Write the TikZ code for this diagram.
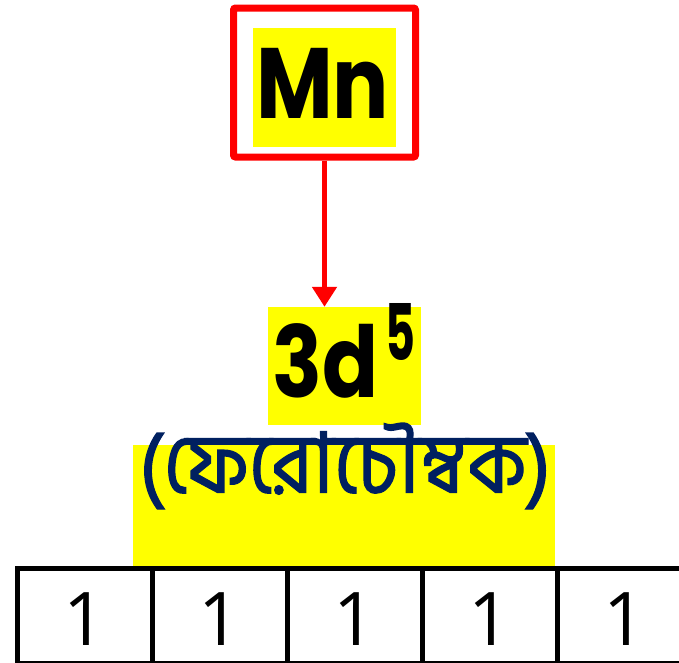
\documentclass[tikz,border=0pt]{standalone}
\usepackage{fontspec}
\usetikzlibrary{arrows.meta}
\newfontfamily\popfont{Poppins}
\newfontfamily\bnfont[Script=Bengali,FakeBold=1.6]{Hind Siliguri}
\newfontfamily\numfont{Open Sans}
\definecolor{navy}{RGB}{0,32,96}
\definecolor{hl}{RGB}{255,255,0}
\tikzset{
  hlbox/.style={fill=hl, inner sep=0pt, draw=none},
  cellbox/.style={draw=black, line width=5pt, minimum width=135pt, minimum height=95pt, inner sep=0pt},
  digit/.style={inner sep=0pt, anchor=base, font=\numfont\fontsize{74}{74}\selectfont},
  redbox/.style={draw=red, line width=7pt, rounded corners=2pt, minimum width=182pt, minimum height=149pt, inner sep=0pt},
  redarrow/.style={draw=red, line width=5pt, -{Triangle[width=24pt,length=20pt]}},
}
\begin{document}
\begin{tikzpicture}[x=1pt,y=-1pt]
\clip (0,0) rectangle (679,662);
% Mn
\node[hlbox, minimum width=143pt, minimum height=119pt] (mnbg) at (324.5,87.5) {};
\node[anchor=base, inner sep=0pt, font=\popfont\bfseries\fontsize{100}{100}\selectfont] (mn) at (322.5,118) {\resizebox{133pt}{\height}{Mn}};
\node[redbox] (rb) at (324.5,82.5) {};
% 3d5
\node[hlbox, minimum width=153pt, minimum height=118pt] (d) at (344.5,366) {};
\node[anchor=base west, inner sep=0pt, font=\popfont\bfseries\fontsize{99}{99}\selectfont] (dt) at (272,397) {\resizebox{106pt}{\height}{3d}};
\node[anchor=base west, inner sep=0pt, font=\popfont\bfseries\fontsize{78}{78}\selectfont] (sup) at (385,360) {\resizebox{30pt}{\height}{5}};
\draw[redarrow] (rb.south) -- (rb.south |- d.north);
% Bengali
\node[hlbox, minimum width=422pt, minimum height=121pt] (bn) at (344,505.5) {};
\node[inner sep=0pt, text=navy, font=\bnfont\fontsize{84}{84}\selectfont] (bnt) at (345,466) {\resizebox{412pt}{\height}{(ফেরোচৌম্বক)}};
% table
\foreach \i/\x in {1/84.5,2/219.5,3/354.5,4/489.5,5/624.5}{
  \node[cellbox] (c\i) at (\x,616) {};
  \node[digit] (n\i) at (\x,645) {1};
}
\end{tikzpicture}
\end{document}
